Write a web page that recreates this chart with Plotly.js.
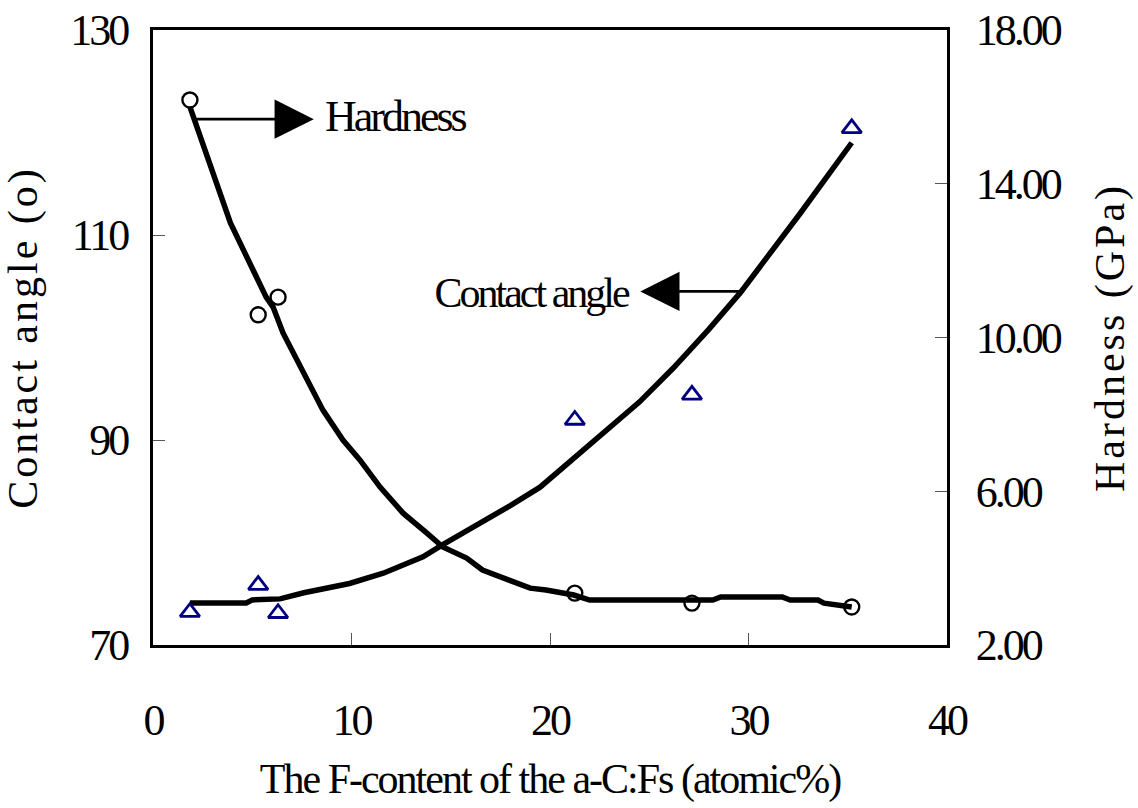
<!DOCTYPE html>
<html>
<head>
<meta charset="utf-8">
<script src="https://cdn.plot.ly/plotly-3.0.1.min.js"></script>
<style>
html,body{margin:0;padding:0;background:#fff;}
#chart{width:1138px;height:808px;}
#chart .xtick text, #chart .ytick text, #chart .y2tick text{letter-spacing:-3px;}
#chart text.xtitle{letter-spacing:-2px;}
#chart text.ytitle, #chart text.y2title{letter-spacing:3px;}
#chart .annotation-text{letter-spacing:-3px;}
</style>
</head>
<body>
<div id="chart"></div>
<script>
// Measured samples (F-content, atomic %)
const fContent = [1.86, 5.3, 6.3, 21.25, 27.15, 35.2];
const contactAngle = [73.2, 75.85, 73.1, 91.95, 94.4, 120.4];
const hardness = [16.18, 10.59, 11.05, 3.35, 3.09, 2.99];

// Fitted contact-angle curve
const caCurveX = [1.86, 4.7, 5.0, 6.4, 7.6, 9.9, 11.6, 13.6, 14.6, 16.6, 18.0, 19.5, 22.0, 24.5, 26.2, 28.0, 29.6, 32.6, 35.2];
const caCurveY = [74.1, 74.1, 74.4, 74.5, 75.1, 76.0, 77.0, 78.6, 79.8, 82.0, 83.6, 85.4, 89.5, 93.7, 97.0, 100.8, 104.4, 112.1, 119.0];

// Fitted hardness curve
const hCurveX = [1.86, 2.9, 3.9, 5.7, 6.05, 6.55, 7.56, 8.56, 9.57, 10.43, 11.44, 12.6, 13.8, 14.6, 15.8, 16.6, 19.0, 19.8, 21.2, 22.0, 28.2, 28.6, 31.7, 32.1, 33.5, 33.8, 35.2];
const hCurveY = [16.0, 14.44, 12.98, 11.05, 10.79, 10.12, 9.08, 8.11, 7.33, 6.81, 6.11, 5.43, 4.91, 4.55, 4.26, 3.95, 3.48, 3.43, 3.30, 3.17, 3.17, 3.25, 3.25, 3.17, 3.17, 3.09, 2.99];

// Tick labels
const xTicks = [0, 10, 20, 30, 40];
const caTicks = [70, 90, 110, 130];
const hTicks = [2, 6, 10, 14, 18];

const serif = 'Liberation Serif, Times New Roman, serif';

const traces = [
  {x: caCurveX, y: caCurveY, mode: 'lines', line: {color: '#000', width: 5.5}, yaxis: 'y', hoverinfo: 'skip'},
  {x: hCurveX, y: hCurveY, mode: 'lines', line: {color: '#000', width: 5.5}, yaxis: 'y2', hoverinfo: 'skip'},
  {x: fContent, y: contactAngle, mode: 'markers', yaxis: 'y',
   marker: {symbol: 'triangle-up-open', size: 17, color: '#000080', line: {color: '#000080', width: 2.8}}},
  {x: fContent, y: hardness, mode: 'markers', yaxis: 'y2',
   marker: {symbol: 'circle-open', size: 15, color: '#000', line: {color: '#000', width: 2.4}}}
];

const layout = {
  width: 1138, height: 808,
  margin: {l: 153, r: 191, t: 30, b: 163},
  paper_bgcolor: '#fff', plot_bgcolor: '#fff',
  showlegend: false,
  font: {family: serif, color: '#000'},
  xaxis: {
    range: [0, 40], tickvals: xTicks, ticks: 'inside', ticklen: 12, tickwidth: 1, tickcolor: '#555',
    showline: true, linecolor: '#000', linewidth: 3, mirror: true,
    showgrid: false, zeroline: false,
    tickfont: {family: serif, size: 44, color: '#000'}, ticklabelstandoff: 34,
    title: {text: 'The F-content of the a-C:Fs (atomic%)', font: {family: serif, size: 42, color: '#000'}, standoff: 20}
  },
  yaxis: {
    range: [70, 130], tickvals: caTicks, ticks: 'inside', ticklen: 12, tickwidth: 1, tickcolor: '#555',
    showline: true, linecolor: '#000', linewidth: 3, mirror: true,
    showgrid: false, zeroline: false,
    tickfont: {family: serif, size: 44, color: '#000'}, ticklabelstandoff: 14,
    title: {text: 'Contact angle (o)', font: {family: serif, size: 42, color: '#000'}, standoff: 12}
  },
  yaxis2: {
    range: [2, 18], tickvals: hTicks, tickformat: '.2f', overlaying: 'y', side: 'right',
    ticks: 'inside', ticklen: 12, tickwidth: 1, tickcolor: '#555',
    showline: true, linecolor: '#000', linewidth: 3,
    showgrid: false, zeroline: false,
    tickfont: {family: serif, size: 44, color: '#000'}, ticklabelstandoff: 17,
    title: {text: 'Hardness (GPa)', font: {family: serif, size: 42, color: '#000'}, standoff: 21}
  },
  annotations: [
    {x: 8.1, y: 121.3, xref: 'x', yref: 'y', ax: 1.96, ay: 121.3, axref: 'x', ayref: 'y',
     showarrow: true, arrowhead: 2, arrowsize: 2.8, arrowwidth: 2.8, arrowcolor: '#000', text: ''},
    {x: 12.19, y: 121.6, xref: 'x', yref: 'y', xanchor: 'center', yanchor: 'middle', showarrow: false,
     text: 'Hardness', font: {family: serif, size: 44, color: '#000'}},
    {x: 24.55, y: 104.5, xref: 'x', yref: 'y', ax: 29.8, ay: 104.5, axref: 'x', ayref: 'y',
     showarrow: true, arrowhead: 2, arrowsize: 2.8, arrowwidth: 2.8, arrowcolor: '#000', text: ''},
    {x: 19.04, y: 104.3, xref: 'x', yref: 'y', xanchor: 'center', yanchor: 'middle', showarrow: false,
     text: 'Contact angle', font: {family: serif, size: 42, color: '#000'}}
  ]
};

Plotly.newPlot('chart', traces, layout, {displayModeBar: false, staticPlot: true});
</script>
</body>
</html>
